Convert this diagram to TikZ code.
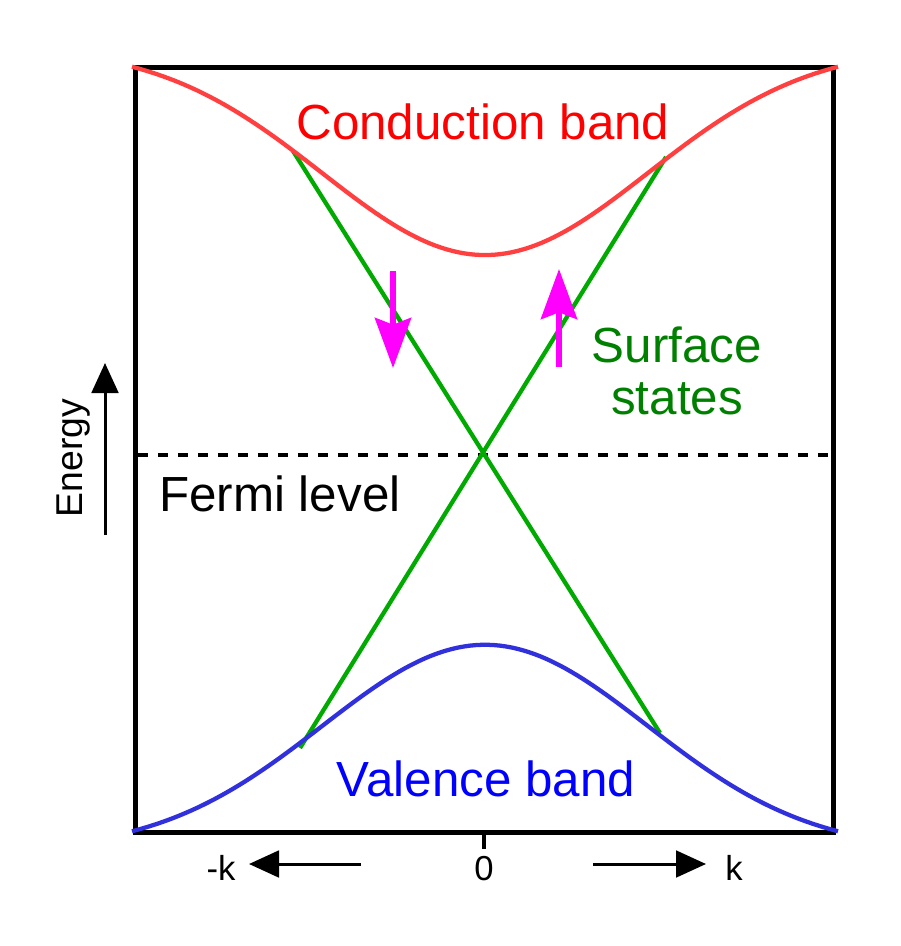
\documentclass[tikz,border=0pt]{standalone}
\usepackage{fontspec}
\setmainfont{Liberation Sans}
\usepackage{xcolor}
\usetikzlibrary{arrows.meta}
\definecolor{condred}{RGB}{255,64,64}
\definecolor{surfgreen}{RGB}{0,170,0}
\definecolor{textgreen}{RGB}{0,128,0}
\definecolor{valblue}{RGB}{48,48,220}
\definecolor{spinpink}{RGB}{255,0,255}
\begin{document}
\begin{tikzpicture}[x=0.75pt, y=-0.75pt,
  band/.style={line width=3.2pt},
  bigtext/.style={font=\fontsize{37}{39}\selectfont, inner sep=0pt, anchor=base},
  axtext/.style={font=\fontsize{26}{28}\selectfont, inner sep=0pt, anchor=base},
  axarrow/.style={line width=2.25pt, -{Triangle[length=22.5pt, width=20pt]}},
  spin/.style={spinpink, line width=4.5pt, -{Stealth[length=37.5pt, width=27pt, inset=5pt]}}]
\useasboundingbox (0,0) rectangle (900,946);

% Riquadro
\draw[line width=3.75pt] (135,67) rectangle (833,832);
\draw[line width=3pt, dash pattern=on 7.5pt off 7.5pt] (138,455) -- (833,455);
\node[bigtext, anchor=base west] (fermi) at (159,511) {Fermi level};

% Stati di superficie
\coordinate (g1) at (293,151);
\coordinate (g2) at (660,733);
\coordinate (g3) at (300,748);
\coordinate (g4) at (666,157);
\draw[surfgreen, band] (g1) -- (g2);
\draw[surfgreen, band] (g3) -- (g4);
\node[bigtext, textgreen, align=center] (surf) at (677,414) {Surface\\states};

% Bande
\draw[condred, band] plot[domain=132:838, samples=120] (\x, {67+208*(exp(-((\x-485)/230)^2)-0.0961)});
\draw[valblue, band] plot[domain=132:838, samples=120] (\x, {831-206*(exp(-((\x-485)/230)^2)-0.0961)});
\node[bigtext, red] (cond) at (483,139) {Conduction band};
\node[bigtext, blue] (val) at (486,796) {Valence band};

% Spin
\coordinate (s1) at (393,271);
\coordinate (s2) at (393,368);
\draw[spin] (s1) -- (s2);
\coordinate (s3) at (559,367);
\coordinate (s4) at (559,269);
\draw[spin] (s3) -- (s4);

% Asse energia
\coordinate (e1) at (105,535);
\coordinate (e2) at (105,363);
\draw[axarrow] (e1) -- (e2);
\node[font=\fontsize{28}{30}\selectfont, inner sep=0pt, anchor=base, rotate=90] (energy) at (82,458) {Energy};

% Asse k
\coordinate (t1) at (484,832);
\coordinate (t2) at (484,849);
\draw[line width=3pt] (t1) -- (t2);
\node[axtext] (kzero) at (484,880) {0};
\node[axtext] (kneg) at (221,880) {-k};
\node[axtext] (kpos) at (734,880) {k};
\coordinate (l1) at (361,864);
\coordinate (l2) at (249,864);
\draw[axarrow] (l1) -- (l2);
\coordinate (r1) at (593,864);
\coordinate (r2) at (706,864);
\draw[axarrow] (r1) -- (r2);

\end{tikzpicture}
\end{document}
